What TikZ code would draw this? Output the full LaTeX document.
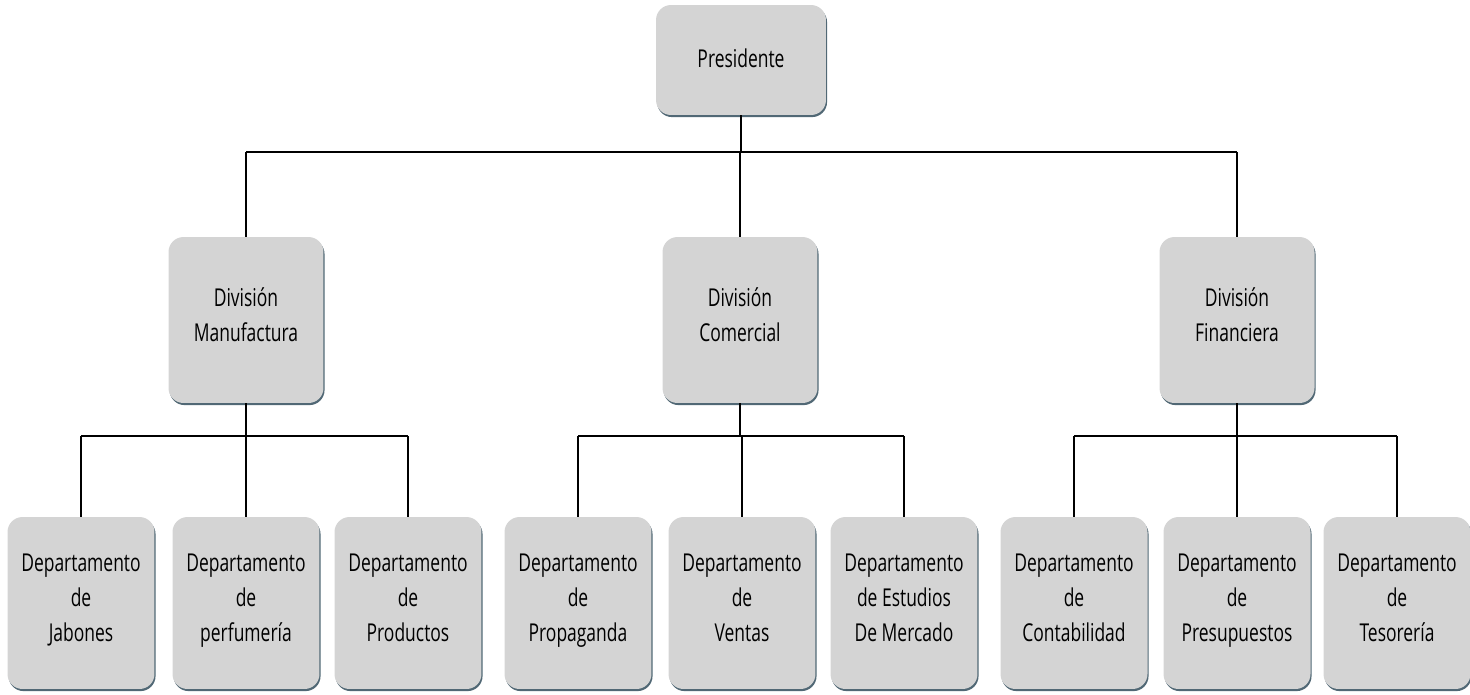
\documentclass[tikz,border=0pt]{standalone}
\usepackage{fontspec}
\setmainfont{Open Sans}[FakeStretch=0.71]
\usetikzlibrary{shadows}
\definecolor{boxgray}{HTML}{D4D4D4}
\definecolor{shadowcol}{HTML}{3E5866}
\tikzset{main node/.style={rectangle,rounded corners=0.3cm,fill=boxgray,align=center,inner sep=0pt,
    font=\fontsize{14}{20}\selectfont,
    execute at begin node=\strut,execute at end node=\strut,
    drop shadow={shadow xshift=0.6pt,shadow yshift=-1.2pt,fill=shadowcol,opacity=0.9}},
  pres node/.style={main node,minimum width=3.4cm,minimum height=2.2cm},
  div node/.style={main node,minimum width=3.1cm,minimum height=3.32cm},
  dep node/.style={main node,minimum width=2.94cm,minimum height=3.44cm},
  stem/.style={draw,line width=0.6pt},
  bar/.style={draw,line width=1.1pt}}

\begin{document}
\begin{tikzpicture}[x=0.02cm,y=-0.02cm]
    \useasboundingbox (0,0) rectangle (1470,694);
    \node[pres node] (pres) at (741,60) {Presidente};
    \node[div node] (man) at (246,320) {División\\Manufactura};
    \node[div node] (com) at (740,320) {División\\Comercial};
    \node[div node] (fin) at (1237,320) {División\\Financiera};

    \node[dep node] (jab) at (81,603) {Departamento\\de\\Jabones};
    \node[dep node] (per) at (246,603) {Departamento\\de\\perfumería};
    \node[dep node] (pro) at (408,603) {Departamento\\de\\Productos};
    \node[dep node] (pga) at (578,603) {Departamento\\de\\Propaganda};
    \node[dep node] (ven) at (742,603) {Departamento\\de\\Ventas};
    \node[dep node] (est) at (904,603) {Departamento\\de Estudios\\De Mercado};
    \node[dep node] (con) at (1074,603) {Departamento\\de\\Contabilidad};
    \node[dep node] (psu) at (1237,603) {Departamento\\de\\Presupuestos};
    \node[dep node] (tes) at (1397,603) {Departamento\\de\\Tesorería};

    \coordinate (b0) at (0,152);
    \coordinate (b1) at (0,436);

    % presidente -> divisiones
    \draw[stem] (pres.south) -- (pres.south |- b0);
    \draw[bar] (man.north |- b0) -- (fin.north |- b0);
    \foreach \n in {man,com,fin}
        \draw[stem] (\n.north |- b0) -- (\n.north);

    % divisiones -> departamentos
    \foreach \d/\l/\m/\r in {man/jab/per/pro,com/pga/ven/est,fin/con/psu/tes}{
        \draw[stem] (\d.south) -- (\d.south |- b1);
        \draw[bar] (\l.north |- b1) -- (\r.north |- b1);
        \foreach \n in {\l,\m,\r}
            \draw[stem] (\n.north |- b1) -- (\n.north);
    }
\end{tikzpicture}
\end{document}
